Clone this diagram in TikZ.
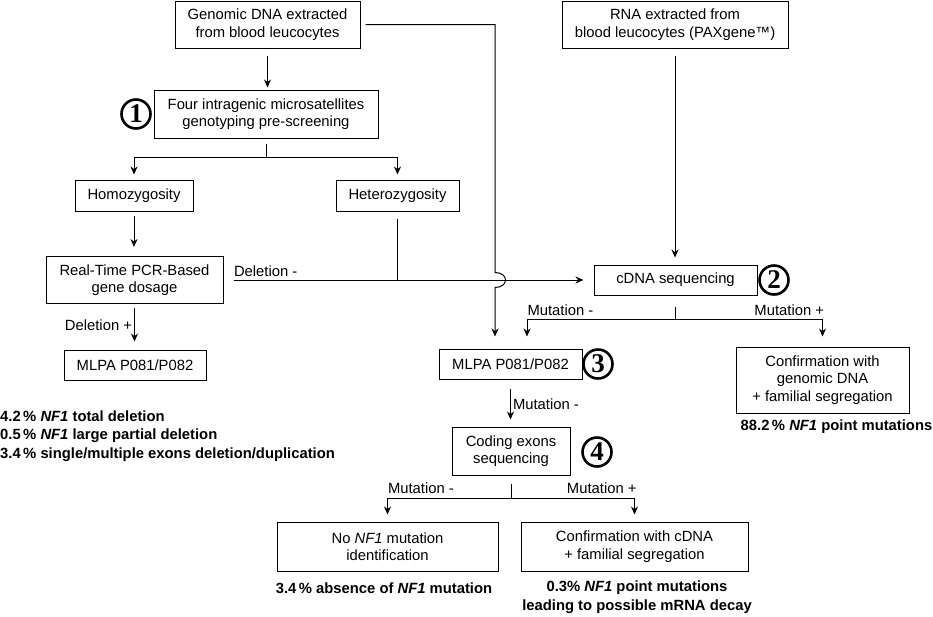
\documentclass[tikz,border=0pt]{standalone}
\usepackage{fontspec}
\setmainfont{Liberation Sans}
\newfontfamily\numfont{Liberation Serif}
\usetikzlibrary{arrows.meta}

\begin{document}
\begin{tikzpicture}[x=1pt,y=-1pt,
    font=\fontsize{14.8}{17.5}\selectfont,
    box/.style={draw,line width=1pt,align=center,inner sep=0pt},
    num/.style={circle,draw,line width=2.6pt,minimum size=29pt,inner sep=0pt,
        font=\numfont\bfseries\fontsize{27}{27}\selectfont},
    lab/.style={inner sep=0pt},
    res/.style={inner sep=0pt,align=left,font=\bfseries\fontsize{14.8}{18.5}\selectfont},
    line/.style={line width=1pt},
    arr/.style={line width=1pt,-{Stealth[length=8pt,width=7pt]}}]
    \useasboundingbox (0,0) rectangle (933,616);
    % boxes
    \node[box,minimum width=185,minimum height=47] (gdna) at (267.5,24.5) {Genomic DNA extracted\\from blood leucocytes};
    \node[box,minimum width=226,minimum height=47] (rna) at (675,24.5) {RNA extracted from\\blood leucocytes (PAXgene™)};
    \node[box,minimum width=224,minimum height=48] (four) at (266,114) {Four intragenic microsatellites\\genotyping pre-screening};
    \node[box,minimum width=118,minimum height=31] (homo) at (134,195.5) {Homozygosity};
    \node[box,minimum width=123,minimum height=31] (hetero) at (397.5,195.5) {Heterozygosity};
    \node[box,minimum width=177,minimum height=47] (rtpcr) at (134.5,280) {Real-Time PCR-Based\\gene dosage};
    \node[box,minimum width=142,minimum height=30] (mlpaL) at (135,365) {MLPA P081/P082};
    \node[box,minimum width=163,minimum height=30] (cdna) at (675.5,280) {cDNA sequencing};
    \node[box,minimum width=143,minimum height=30] (mlpa3) at (510.5,364) {MLPA P081/P082};
    \node[box,minimum width=173,minimum height=66] (conf) at (822.5,380) {Confirmation with\\genomic DNA\\+ familial segregation};
    \node[box,minimum width=118,minimum height=48] (coding) at (511,451) {Coding exons\\sequencing};
    \node[box,minimum width=221,minimum height=49] (nomut) at (387.5,546.5) {No \textit{NF1} mutation\\identification};
    \node[box,minimum width=227,minimum height=49] (confc) at (634.5,546.5) {Confirmation with cDNA\\+ familial segregation};
    % step numbers
    \node[num] (n1) at (136,114) {1};
    \node[num] (n2) at (774,280) {2};
    \node[num] (n3) at (598,364) {3};
    \node[num] (n4) at (597,452) {4};
    % results
    \node[res,anchor=west] (resL) at (0,436) {4.2\,\% \textit{NF1} total deletion\\0.5\,\% \textit{NF1} large partial deletion\\3.4\,\% single/multiple exons deletion/duplication};
    \node[res] (res88) at (836.5,427) {88.2\,\% \textit{NF1} point mutations};
    \node[res] (res34) at (384,588) {3.4\,\% absence of \textit{NF1} mutation};
    \node[res,align=center] (res03) at (637,597) {0.3\% \textit{NF1} point mutations\\leading to possible mRNA decay};
    \coordinate (hop) at (495,280);
    % connectors
    \draw[arr] ([yshift=-7pt]gdna.south) -- ([yshift=2pt]gdna.south |- four.north);
    \draw[arr] ([xshift=5pt]gdna.east) -| ([yshift=7.5pt]hop)
        .. controls +(14,0) and +(14,0) .. ([yshift=-7.5pt]hop)
        -- ([yshift=12pt]mlpa3.north -| hop);
    \draw[line] ([yshift=-5pt]four.south) -- ([yshift=-19pt]four.south);
    \draw[arr] ([yshift=-19pt]four.south) -| ([yshift=5pt]homo.north);
    \draw[arr] ([yshift=-19pt]four.south) -| ([yshift=5pt]hetero.north);
    \draw[arr] ([yshift=-4pt]homo.south) -- ([yshift=9pt]homo.south |- rtpcr.north);
    \draw[line] ([yshift=-7pt]hetero.south) -- (hetero.south |- cdna.west);
    \draw[arr] ([xshift=10pt]rtpcr.east |- cdna.west) -- ([xshift=-10pt]cdna.west)
        node[lab,pos=0,anchor=south west,yshift=3pt] (dminus) {Deletion -};
    \draw[arr] ([yshift=-4pt]rtpcr.south) -- ([yshift=8pt]rtpcr.south |- mlpaL.north)
        node[lab,midway,left=2pt] (dplus) {Deletion +};
    \draw[arr] ([yshift=-7pt]rna.south) -- ([yshift=7pt]rna.south |- cdna.north);
    \draw[line] ([yshift=-11pt]cdna.south) -- ([yshift=-24pt]cdna.south);
    \draw[arr] ([yshift=-24pt]cdna.south) -| ([xshift=16.5pt,yshift=12pt]mlpa3.north)
        node[lab,pos=.5,anchor=south west,yshift=3pt] (cminus) {Mutation -};
    \draw[arr] ([yshift=-24pt]cdna.south) -| ([yshift=10pt]conf.north)
        node[lab,pos=.5,anchor=south east,xshift=2pt,yshift=3pt] (cplus) {Mutation +};
    \draw[arr] ([yshift=-9pt]mlpa3.south) -- ([yshift=7pt]mlpa3.south |- coding.north)
        node[lab,midway,right=2pt] (mminus) {Mutation -};
    \draw[line] ([yshift=-8pt]coding.south) -- ([yshift=-23pt]coding.south);
    \draw[arr] ([yshift=-23pt]coding.south) -| ([yshift=7pt]nomut.north)
        node[lab,pos=.5,anchor=south west,yshift=4pt] (sminus) {Mutation -};
    \draw[arr] ([yshift=-23pt]coding.south) -| ([yshift=7pt]confc.north)
        node[lab,pos=.5,anchor=south east,xshift=2.5pt,yshift=4pt] (splus) {Mutation +};
\end{tikzpicture}
\end{document}
